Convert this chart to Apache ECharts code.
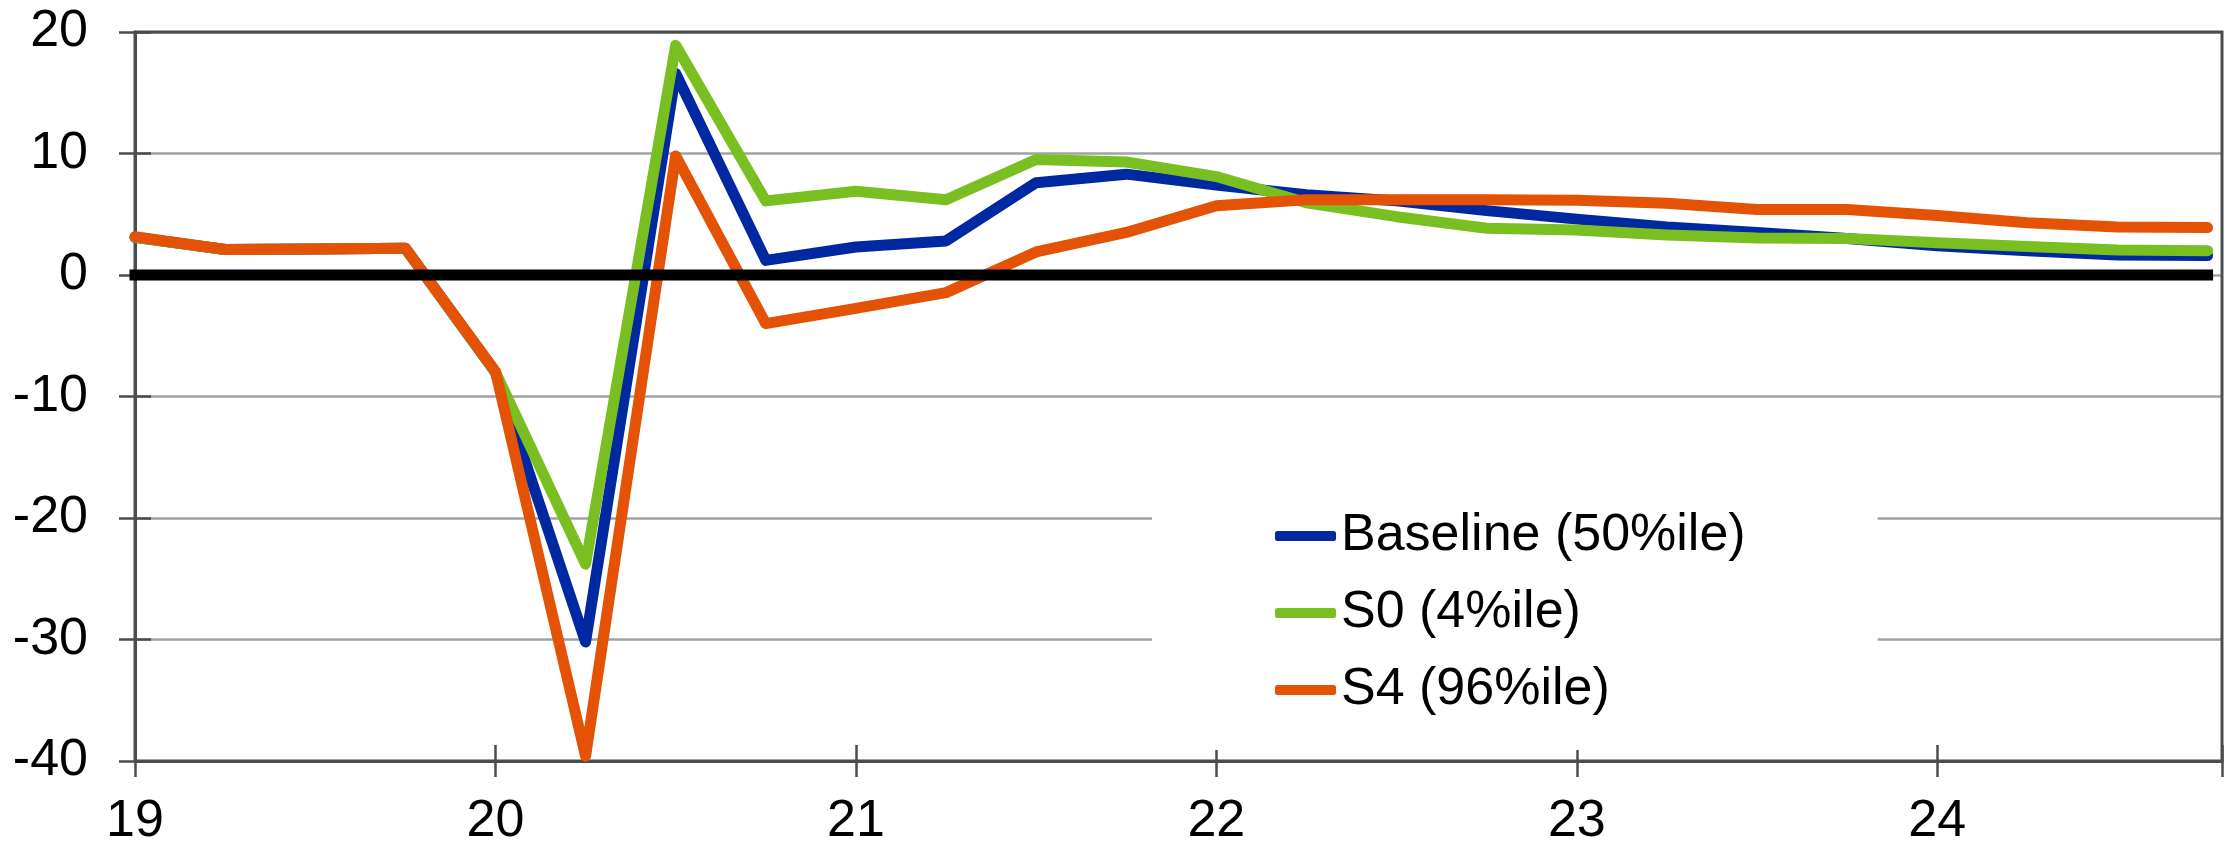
<!DOCTYPE html>
<html>
<head>
<meta charset="utf-8">
<script src="https://cdn.jsdelivr.net/npm/echarts@6/dist/echarts.min.js"></script>
<style>
html,body{margin:0;padding:0;background:#fff;}
#chart{width:2225px;height:848px;}
</style>
</head>
<body>
<div id="chart"></div>
<script>
// Quarterly time points (year fraction, "19" = 2019)
const quarters = [19, 19.25, 19.5, 19.75, 20, 20.25, 20.5, 20.75, 21, 21.25, 21.5, 21.75,
                  22, 22.25, 22.5, 22.75, 23, 23.25, 23.5, 23.75, 24, 24.25, 24.5, 24.75];
const seriesNames = ['Baseline (50%ile)', 'S0 (4%ile)', 'S4 (96%ile)'];
const baseline = [3.1, 2.1, 2.15, 2.2, -8.0, -30.2, 16.6, 1.2, 2.3, 2.8, 7.6, 8.3,
                  7.4, 6.6, 6.1, 5.3, 4.6, 3.95, 3.5, 3.0, 2.4, 2.0, 1.65, 1.6];
const s0 = [3.1, 2.1, 2.15, 2.2, -8.0, -23.8, 18.9, 6.1, 6.9, 6.2, 9.5, 9.3,
            8.1, 5.95, 4.8, 3.85, 3.7, 3.3, 3.05, 3.0, 2.65, 2.35, 2.05, 2.0];
const s4 = [3.15, 2.1, 2.15, 2.2, -7.95, -39.6, 9.8, -4.0, -2.75, -1.45, 1.9, 3.5,
            5.7, 6.2, 6.2, 6.2, 6.15, 5.9, 5.4, 5.4, 4.9, 4.3, 3.95, 3.9];
const zeroLine = [0, 0, 0, 0, 0, 0, 0, 0, 0, 0, 0, 0, 0, 0, 0, 0, 0, 0, 0, 0, 0, 0, 0, 0];
const xTickLabels = ['19', '20', '21', '22', '23', '24'];
const yTickLabels = ['-40', '-30', '-20', '-10', '0', '10', '20'];

const colors = ['#0029a1', '#79bf21', '#e35205'];
const FONT = "'Liberation Sans', Arial, sans-serif";
const AXIS_COLOR = '#4a4d50';

function pair(xs, ys) { return xs.map((x, i) => [x, ys[i]]); }

const chart = echarts.init(document.getElementById('chart'), null, {renderer: 'canvas'});

const lineSeries = (name, data, color, z) => ({
  name: name, type: 'line', data: pair(quarters, data),
  xAxisIndex: 0, yAxisIndex: 0,
  showSymbol: false, symbol: 'none', z: z, animation: false,
  lineStyle: {color: color, width: 11, join: 'round', cap: 'round'},
  itemStyle: {color: color}
});

const option = {
  animation: false,
  backgroundColor: '#ffffff',
  grid: {left: 135, right: 3, top: 32, bottom: 85, show: true, z: 1,
         borderColor: AXIS_COLOR, borderWidth: 3, backgroundColor: 'transparent'},
  legend: {
    data: seriesNames,
    orient: 'vertical',
    left: 1152, top: 476,
    padding: [30, 132, 30, 123],
    backgroundColor: '#ffffff',
    icon: 'roundRect',
    itemWidth: 61, itemHeight: 10,
    itemGap: 17,
    textStyle: {fontFamily: FONT, fontSize: 52, color: '#000', lineHeight: 60}
  },
  xAxis: [{
    type: 'value', min: 19, max: 24.79, interval: 1, position: 'bottom',
    axisLine: {show: true, onZero: false, lineStyle: {color: AXIS_COLOR, width: 3}},
    axisTick: {show: true, inside: false, length: 16, lineStyle: {color: AXIS_COLOR, width: 2.5}},
    axisLabel: {fontFamily: FONT, fontSize: 52, color: '#000', margin: 35,
                formatter: v => xTickLabels[Math.round(v) - 19] || ''},
    splitLine: {show: false}
  }, {
    type: 'value', min: 19, max: 24.79, interval: 1, position: 'bottom',
    axisLine: {show: false, onZero: false},
    axisTick: {show: true, inside: true, length: 16, lineStyle: {color: AXIS_COLOR, width: 2.5}},
    axisLabel: {show: false}, splitLine: {show: false}
  }],
  yAxis: [{
    type: 'value', min: -40, max: 20, interval: 10, position: 'left',
    axisLine: {show: true, onZero: false, lineStyle: {color: AXIS_COLOR, width: 3}},
    axisTick: {show: true, inside: false, length: 16, lineStyle: {color: AXIS_COLOR, width: 2.5}},
    axisLabel: {fontFamily: FONT, fontSize: 52, color: '#000', margin: 47,
                formatter: v => yTickLabels[Math.round((v + 40) / 10)]},
    splitLine: {show: true, lineStyle: {color: '#9fa2a6', width: 2.5}}
  }, {
    type: 'value', min: -40, max: 20, interval: 10, position: 'left',
    axisLine: {show: false, onZero: false},
    axisTick: {show: true, inside: true, length: 16, lineStyle: {color: AXIS_COLOR, width: 2.5}},
    axisLabel: {show: false}, splitLine: {show: false}
  }],
  series: [
    lineSeries(seriesNames[0], baseline, colors[0], 3),
    lineSeries(seriesNames[1], s0, colors[1], 4),
    lineSeries(seriesNames[2], s4, colors[2], 5),
    {
      name: 'zero', type: 'line', data: pair(quarters, zeroLine),
      xAxisIndex: 0, yAxisIndex: 0, showSymbol: false, symbol: 'none', z: 6,
      lineStyle: {color: '#000000', width: 11, cap: 'square'},
      silent: true
    }
  ]
};
chart.setOption(option);
</script>
</body>
</html>
